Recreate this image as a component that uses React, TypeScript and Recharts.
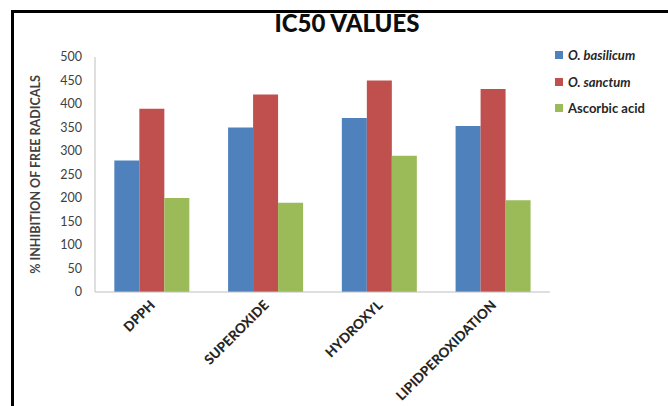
import React from 'react';
import { BarChart, Bar, XAxis, YAxis, Legend, Label } from 'recharts';

// Assay categories and IC50 values per extract
const categories = ['DPPH', 'SUPEROXIDE', 'HYDROXYL', 'LIPIDPEROXIDATION'];
const basilicum = [280, 350, 370, 353];
const sanctum = [390, 420, 450, 432];
const ascorbicAcid = [200, 190, 290, 195];
const yTicks = [0, 50, 100, 150, 200, 250, 300, 350, 400, 450, 500];

const series = [
  { key: 'basilicum', name: 'O. basilicum', color: '#4F81BD', italic: true },
  { key: 'sanctum', name: 'O. sanctum', color: '#C0504D', italic: true },
  { key: 'ascorbic', name: 'Ascorbic acid', color: '#9BBB59', italic: false },
];

const data = categories.map((category, i) => ({
  category,
  basilicum: basilicum[i],
  sanctum: sanctum[i],
  ascorbic: ascorbicAcid[i],
}));

const FONT = 'Lato, "Open Sans", sans-serif';

const CategoryTick = (props: any) => {
  const { x, y, payload } = props;
  return (
    <g transform={`translate(${x + 4}, ${y + 6})`}>
      <text
        x={0}
        y={0}
        transform="rotate(-45)"
        textAnchor="end"
        fontFamily={FONT}
        fontWeight={900}
        fontSize={13.5}
        fill="#262626"
      >
        {payload.value}
      </text>
    </g>
  );
};

const YTitle = (props: any) => {
  const vb = props.viewBox || {};
  const cx = 35;
  const cy = vb.y + vb.height / 2;
  return (
    <text
      x={cx}
      y={cy}
      transform={`rotate(-90, ${cx}, ${cy})`}
      textAnchor="middle"
      dominantBaseline="central"
      fontFamily={FONT}
      fontWeight={700}
      fontSize={12.5}
      fill="#404040"
    >
      % INHIBITION OF FREE RADICALS
    </text>
  );
};

const LegendList = () => (
  <div style={{ fontFamily: FONT, fontWeight: 700, fontSize: 13, color: '#262626' }}>
    {series.map((s) => (
      <div key={s.key} style={{ display: 'flex', alignItems: 'center', height: 26.5 }}>
        <span style={{ display: 'inline-block', width: 8, height: 8, background: s.color, marginRight: 5 }} />
        <span style={{ fontStyle: s.italic ? 'italic' : 'normal' }}>{s.name}</span>
      </div>
    ))}
  </div>
);

export default function App() {
  return (
    <div style={{ position: 'absolute', left: 0, top: 0, width: 668, height: 406, background: '#fff', overflow: 'hidden' }}>
      <div
        style={{
          position: 'absolute',
          left: 11,
          top: 10,
          width: 700,
          height: 420,
          borderLeft: '3px solid #000',
          borderTop: '3px solid #000',
        }}
      />
      <div
        style={{
          position: 'absolute',
          left: 0,
          top: 8,
          width: 694,
          textAlign: 'center',
          fontFamily: FONT,
          fontWeight: 900,
          fontSize: 24,
          color: '#0d0d0d',
        }}
      >
        IC50 VALUES
      </div>
      <BarChart
        width={668}
        height={406}
        data={data}
        margin={{ top: 57, right: 8, bottom: 0, left: 0 }}
        barCategoryGap="17%"
        barGap={0}
      >
        <XAxis
          dataKey="category"
          interval={0}
          height={114}
          tickLine={false}
          axisLine={{ stroke: '#BFBFBF' }}
          tick={<CategoryTick />}
        />
        <YAxis
          domain={[0, 500]}
          ticks={yTicks}
          width={95}
          tickLine={false}
          tickSize={0}
          tickMargin={13}
          axisLine={{ stroke: '#BFBFBF' }}
          tick={{ fill: '#404040', fontSize: 12.5, fontFamily: FONT }}
        >
          <Label content={<YTitle />} />
        </YAxis>
        <Legend
          layout="vertical"
          align="right"
          verticalAlign="top"
          content={<LegendList />}
          wrapperStyle={{ position: 'absolute', left: 555, top: 42, width: 110 }}
        />
        {series.map((s) => (
          <Bar key={s.key} dataKey={s.key} name={s.name} fill={s.color} isAnimationActive={false} />
        ))}
      </BarChart>
    </div>
  );
}
